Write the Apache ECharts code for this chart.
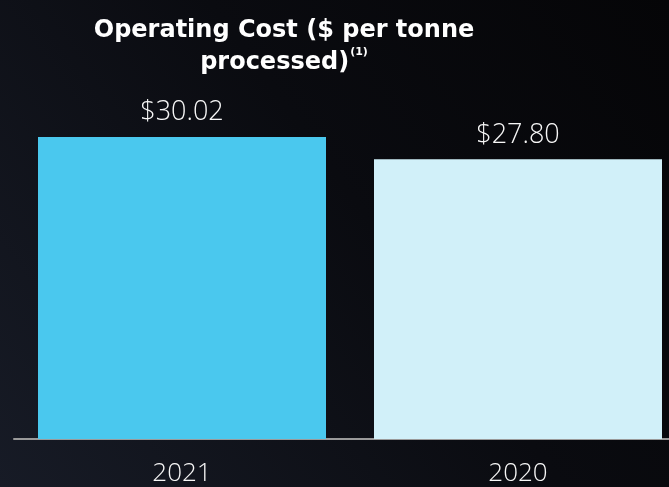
<!DOCTYPE html>
<html>
<head>
<meta charset="utf-8">
<style>
  html, body { margin: 0; padding: 0; background: #08080c; }
  #chart { width: 669px; height: 487px; }
</style>
<script src="https://cdn.jsdelivr.net/npm/echarts@6/dist/echarts.min.js"></script>
</head>
<body>
<div id="chart"></div>
<script>
// Operating cost per tonne processed, by year
const years = ['2021', '2020'];
const costPerTonne = [30.02, 27.80];
const barColors = ['#4ac8ee', '#d1f0f9'];

const chart = echarts.init(document.getElementById('chart'));

chart.setOption({
  backgroundColor: new echarts.graphic.LinearGradient(0, 1, 1, 0, [
    { offset: 0, color: '#171b26' },
    { offset: 0.55, color: '#0a0b10' },
    { offset: 1, color: '#050507' }
  ]),
  animation: false,
  title: {
    text: 'Operating Cost ($ per tonne\nprocessed){sup|(1)}',
    left: 279,
    top: 10,
    textAlign: 'center',
    textStyle: {
      color: '#ffffff',
      fontFamily: '"DejaVu Sans", sans-serif',
      fontWeight: 'bold',
      fontSize: 24,
      lineHeight: 32,
      rich: {
        sup: {
          color: '#ffffff',
          fontFamily: '"DejaVu Sans", sans-serif',
          fontWeight: 'bold',
          fontSize: 11,
          verticalAlign: 'top',
          padding: [0, 0, 12, 1]
        }
      }
    }
  },
  grid: {
    left: 14,
    width: 672,
    top: 137,
    bottom: 48,
    containLabel: false,
    outerBoundsMode: 'none'
  },
  xAxis: {
    type: 'category',
    data: years,
    axisTick: { show: false },
    axisLine: { lineStyle: { color: '#9a9a9a', width: 2 } },
    axisLabel: {
      color: '#f7f7f7',
      fontFamily: '"Open Sans", sans-serif',
      fontWeight: 300,
      fontSize: 26,
      margin: 22
    }
  },
  yAxis: {
    type: 'value',
    min: 0,
    max: 30.02,
    show: false,
    splitLine: { show: false }
  },
  series: [{
    type: 'bar',
    barWidth: 288,
    data: costPerTonne.map((v, i) => ({
      value: v,
      itemStyle: { color: barColors[i] }
    })),
    label: {
      show: true,
      position: 'top',
      distance: 11,
      color: '#f7f7f7',
      fontFamily: '"Open Sans", sans-serif',
      fontWeight: 300,
      fontSize: 27,
      formatter: p => '$' + p.value.toFixed(2)
    }
  }]
});
</script>
</body>
</html>
